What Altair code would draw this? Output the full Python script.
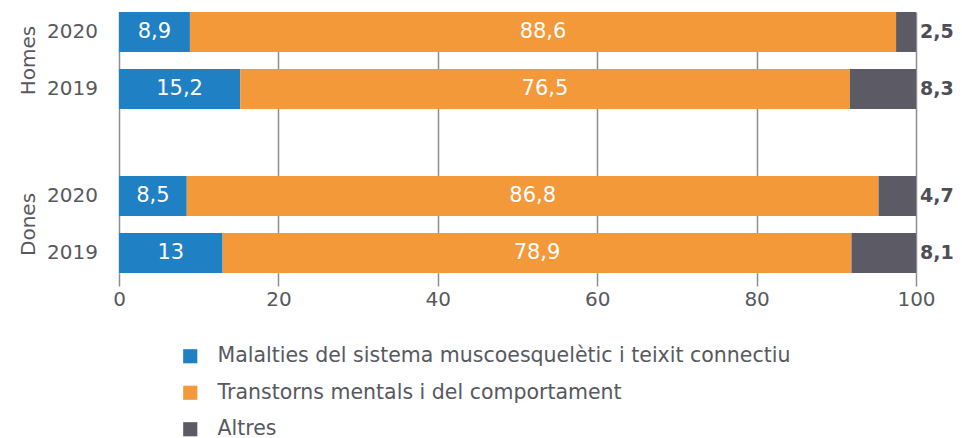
import altair as alt
import pandas as pd

groups = ["Homes", "Dones"]
years = ["2020", "2019"]
categories = [
    "Malalties del sistema muscoesquelètic i teixit connectiu",
    "Transtorns mentals i del comportament",
    "Altres",
]
colors = ["#1f80c3", "#f4993a", "#5c5a64"]

values = {
    ("Homes", "2020"): [8.9, 88.6, 2.5],
    ("Homes", "2019"): [15.2, 76.5, 8.3],
    ("Dones", "2020"): [8.5, 86.8, 4.7],
    ("Dones", "2019"): [13, 78.9, 8.1],
}

rows = []
for g in groups:
    for y in years:
        for i, c in enumerate(categories):
            rows.append({"group": g, "year": y, "cat": c, "ord": i, "value": values[(g, y)][i]})
df = pd.DataFrame(rows)

FONT = "DejaVu Sans"
TXT = "#58585f"

base = alt.Chart(df).transform_stack(
    stack="value", groupby=["group", "year"], as_=["x0", "x1"], sort=[alt.SortField("ord", order="ascending")]
).transform_calculate(
    mid="(datum.x0 + datum.x1) / 2",
    label="replace(toString(datum.value), '.', ',')",
)

yenc = alt.Y("group:N", sort=groups, title=None,
             scale=alt.Scale(paddingInner=0.408, paddingOuter=0),
             axis=alt.Axis(labelAngle=270, labelAlign="center", labelBaseline="middle",
                           labelPadding=91, ticks=False, domain=False, labelFontSize=20,
                           labelColor=TXT, labelFont=FONT, grid=False))
yoff = alt.YOffset("year:N", sort=years, scale=alt.Scale(paddingInner=0.3, paddingOuter=0))

bars = base.mark_bar().encode(
    x=alt.X("x0:Q", scale=alt.Scale(domain=[0, 100]), title=None,
            axis=alt.Axis(values=[0, 20, 40, 60, 80, 100], grid=True, gridColor="#8d8d96",
                          gridWidth=1.5, tickColor="#8d8d96", tickWidth=1.5, tickSize=13,
                          domain=False, labelFontSize=20, labelColor=TXT, labelFont=FONT,
                          labelPadding=3, labelFlush=False)),
    x2="x1:Q",
    y=yenc,
    yOffset=yoff,
    color=alt.Color("cat:N", scale=alt.Scale(domain=categories, range=colors), title=None,
                    legend=alt.Legend(orient="none", legendX=61, legendY=334, direction="vertical",
                                      symbolType="square", symbolSize=200, symbolStrokeWidth=0,
                                      labelFontSize=20.5, labelColor=TXT, labelFont=FONT,
                                      labelOffset=17, rowPadding=15.5, labelLimit=800)),
    order=alt.Order("ord:Q"),
)

inner = base.transform_filter("datum.ord < 2").mark_text(
    color="white", fontSize=21, font=FONT
).encode(x="mid:Q", y=alt.Y("group:N", sort=groups), yOffset=yoff, text="label:N")

outer = base.transform_filter("datum.ord == 2").mark_text(
    color="#4f4e57", fontSize=19, fontWeight="bold", font=FONT, align="left", dx=4
).encode(x=alt.value(797), y=alt.Y("group:N", sort=groups), yOffset=yoff, text="label:N")

yearlab = base.transform_filter("datum.ord == 0").mark_text(
    color=TXT, fontSize=20, font=FONT, align="right"
).encode(x=alt.value(-21), y=alt.Y("group:N", sort=groups), yOffset=yoff, text="year:N")

chart = alt.layer(bars, inner, outer, yearlab).properties(
    width=797, height=261,
    autosize=alt.AutoSizeParams(type="none"),
    padding={"left": 111, "top": 4, "right": 38, "bottom": 166},
).configure_view(stroke=None)

chart.save("out.html", embed_options={"renderer": "svg", "actions": False})
